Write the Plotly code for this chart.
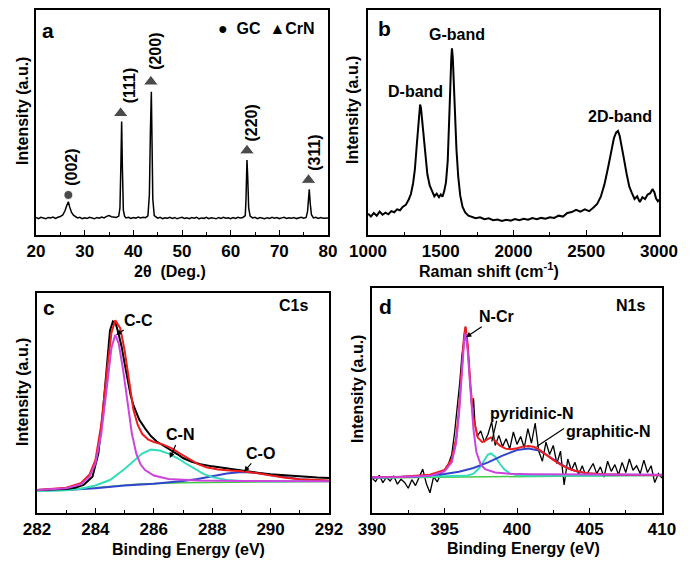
import plotly.graph_objects as go

# ---------------- Panel a: XRD ----------------
xrd_2theta = [20.0, 20.5, 21.0, 21.5, 22.0, 22.5, 23.0, 23.5, 24.0, 24.5, 25.0, 25.5, 26.0, 26.3, 26.65, 26.9, 27.3, 27.7,
              28.0, 28.5, 29.0, 29.5, 30.0, 30.5, 31.0, 31.5, 32.0, 32.5, 33.0, 33.5, 34.0, 34.5, 35.0, 35.5, 36.0, 36.5,
              37.0, 37.25, 37.45, 37.6, 37.75, 37.95, 38.2, 38.5, 39.0, 39.5, 40.0, 40.5, 41.0, 41.5, 42.0, 42.5, 43.0,
              43.3, 43.5, 43.7, 43.85, 44.0, 44.3, 44.7, 45.0, 45.5, 46.0, 46.5, 47.0, 47.5, 48.0, 48.5, 49.0, 49.5,
              50.0, 50.5, 51.0, 51.5, 52.0, 52.5, 53.0, 53.5, 54.0, 54.5, 55.0, 55.5, 56.0, 56.5, 57.0, 57.5, 58.0,
              58.5, 59.0, 59.5, 60.0, 60.5, 61.0, 61.5, 62.0, 62.5, 63.0, 63.15, 63.35, 63.5, 63.7, 64.0, 64.5, 65.0,
              65.5, 66.0, 66.5, 67.0, 67.5, 68.0, 68.5, 69.0, 69.5, 70.0, 70.5, 71.0, 71.5, 72.0, 72.5, 73.0, 73.5,
              74.0, 74.5, 75.0, 75.5, 75.8, 76.0, 76.15, 76.35, 76.6, 77.0, 77.5, 78.0, 78.5, 79.0, 79.5, 80.0]
xrd_int = [7.8, 7.3, 7.9, 7.5, 7.2, 7.8, 7.6, 8.0, 7.4, 7.9, 8.2, 8.9, 11.0, 13.0, 14.8, 12.6, 10.0, 8.8,
           8.2, 7.6, 7.9, 7.3, 7.7, 7.4, 7.9, 7.5, 7.2, 7.8, 7.5, 8.0, 7.6, 8.3, 8.6, 8.1, 8.0, 7.8,
           8.4, 12.0, 32.0, 50.4, 30.0, 11.0, 8.4, 7.6, 7.9, 7.4, 7.8, 7.5, 8.0, 7.6, 7.9, 7.7, 8.5,
           18.0, 45.0, 63.7, 40.0, 16.0, 8.6, 7.8, 7.5, 7.9, 7.3, 7.7, 7.5, 7.9, 7.4, 7.8, 7.2, 7.6,
           7.9, 7.4, 7.7, 7.3, 7.8, 7.5, 7.9, 7.2, 7.6, 7.4, 7.9, 7.3, 7.7, 7.5, 7.2, 7.8, 7.4,
           7.9, 7.5, 7.7, 7.3, 7.8, 7.4, 7.9, 7.6, 7.8, 8.6, 16.0, 33.3, 26.0, 12.0, 8.4, 7.6, 7.9,
           7.3, 7.8, 7.5, 7.2, 7.7, 7.4, 7.9, 7.5, 7.8, 7.3, 7.6, 7.9, 7.4, 7.7, 7.5, 7.8, 7.3,
           7.6, 7.9, 7.5, 7.8, 10.5, 17.0, 20.3, 14.0, 9.0, 7.6, 7.9, 7.4, 7.8, 7.5, 7.7, 7.6]

xrd_labels = ["(002)", "(111)", "(200)", "(220)", "(311)"]
xrd_label_x = [27.3, 39.2, 44.5, 64.2, 77.2]
xrd_label_y = [30.1, 66.7, 81.5, 49.6, 36.7]
xrd_marker_x = [26.65, 37.4, 43.6, 63.35, 76.0]
xrd_marker_y = [17.8, 54.1, 68.1, 37.5, 24.4]
xrd_marker_sym = ["circle", "triangle-up", "triangle-up", "triangle-up", "triangle-up"]

# ---------------- Panel b: Raman ----------------
raman_shift = [1000, 1020, 1040, 1060, 1080, 1100, 1120, 1140, 1160, 1180, 1200, 1220, 1240, 1260, 1280, 1295, 1310,
               1322, 1334, 1344, 1352, 1358, 1364, 1372, 1382, 1394, 1408, 1424, 1440, 1456, 1472, 1488, 1500, 1512,
               1524, 1536, 1548, 1558, 1566, 1572, 1577, 1583, 1590, 1598, 1608, 1620, 1634, 1650, 1668, 1690, 1715,
               1740, 1770, 1800, 1830, 1860, 1890, 1920, 1950, 1980, 2010, 2040, 2070, 2100, 2130, 2160, 2190, 2220,
               2250, 2280, 2310, 2340, 2370, 2400, 2430, 2460, 2490, 2520, 2550, 2575, 2600, 2625, 2650, 2670, 2690,
               2705, 2718, 2730, 2745, 2760, 2778, 2796, 2814, 2832, 2850, 2868, 2886, 2904, 2922, 2940, 2955, 2968,
               2980, 2992, 3000]
raman_int = [9.5, 8.2, 9.8, 8.6, 10.4, 9.0, 9.9, 9.2, 10.6, 10.1, 11.4, 11.0, 12.6, 13.4, 15.8, 18.2, 23.0,
             29.0, 39.0, 49.0, 56.0, 58.0, 56.5, 51.0, 43.0, 34.0, 27.0, 22.0, 19.6, 17.2, 18.4, 16.8, 18.0, 17.0,
             19.5, 23.5, 33.0, 48.0, 66.0, 78.0, 83.0, 78.5, 66.0, 52.0, 38.0, 26.0, 17.5, 12.5, 10.0, 8.6, 8.2,
             7.5, 7.9, 7.0, 7.4, 6.6, 6.9, 6.2, 6.8, 6.4, 7.1, 6.6, 7.2, 6.8, 7.5, 7.0, 7.6, 7.2,
             7.9, 7.6, 8.6, 8.2, 9.8, 10.2, 11.2, 10.4, 11.4, 10.6, 12.2, 13.8, 17.0, 22.5, 30.0, 37.0, 43.0,
             45.5, 46.2, 44.0, 39.5, 33.5, 27.0, 21.5, 18.6, 16.0, 17.2, 14.6, 16.8, 16.0, 18.0, 18.6, 20.4, 19.0,
             16.2, 15.0, 15.8]
raman_labels = ["D-band", "G-band", "2D-band"]
raman_label_x = [1323, 1610, 2732]
raman_label_y = [63.6, 88.9, 52.6]

# ---------------- Panel c: C1s ----------------
c1s_be = [282.0, 282.5, 283.0, 283.3, 283.6, 283.9, 284.1, 284.25, 284.4, 284.5, 284.6, 284.7, 284.8, 284.9, 285.0,
          285.1, 285.2, 285.3, 285.4, 285.5, 285.7, 285.9, 286.1, 286.3, 286.5, 286.8, 287.0, 287.3, 287.6, 288.0,
          288.3, 288.6, 289.0, 289.3, 289.6, 290.0, 290.3, 290.6, 291.0, 291.3, 291.6, 292.0]
c1s_raw = [10.4, 10.6, 10.9, 11.5, 12.8, 16.5, 27.0, 45.0, 70.0, 83.0, 87.1, 86.0, 81.0, 75.5, 68.0,
           61.0, 54.0, 49.0, 45.5, 42.5, 38.5, 35.0, 32.5, 31.0, 29.2, 26.8, 25.0, 23.3, 22.2, 21.2,
           20.6, 20.2, 19.2, 18.9, 18.2, 17.6, 17.3, 16.8, 16.6, 16.3, 16.1, 15.9]
c1s_fit_be = [282.0, 283.0, 283.5, 283.8, 284.0, 284.2, 284.4, 284.55, 284.68, 284.85, 285.0, 285.15, 285.3, 285.45,
              285.6, 285.8, 286.0, 286.3, 286.6, 286.9, 287.2, 287.5, 287.8, 288.2, 288.6, 289.0, 289.5, 290.0,
              290.5, 291.0, 292.0]
c1s_fit = [10.4, 11.5, 13.5, 17.5, 24.0, 40.0, 65.0, 82.0, 87.6, 84.0, 74.0, 60.0, 47.0, 40.0,
           36.0, 33.5, 32.3, 31.2, 29.5, 27.0, 24.5, 22.3, 20.8, 19.8, 19.3, 19.0, 18.2, 17.0,
           16.0, 15.3, 14.8]
cc_be = [282.0, 283.0, 283.5, 283.8, 284.0, 284.2, 284.4, 284.55, 284.68, 284.8, 284.95, 285.1, 285.25, 285.4,
         285.55, 285.7, 286.0, 286.5, 287.5, 289.0, 292.0]
cc_int = [10.5, 11.3, 13.0, 16.5, 22.5, 36.0, 58.0, 75.0, 81.0, 77.0, 65.0, 50.0, 36.0, 27.0,
          22.0, 19.5, 17.0, 15.5, 14.8, 14.6, 14.4]
cn_be = [282.0, 283.0, 283.5, 284.0, 284.5, 285.0, 285.3, 285.6, 285.9, 286.2, 286.5, 286.8, 287.1, 287.4,
         287.7, 288.0, 288.5, 289.0, 290.0, 292.0]
cn_int = [10.0, 10.3, 11.0, 12.5, 15.0, 20.0, 23.5, 27.0, 28.8, 28.4, 27.0, 25.0, 22.5, 20.0,
          17.8, 16.3, 15.0, 14.6, 14.4, 14.4]
co_be = [282.0, 283.0, 284.0, 284.5, 285.0, 286.0, 287.0, 287.5, 288.0, 288.5, 289.0, 289.5, 290.0, 290.5,
         291.0, 292.0]
co_int = [10.2, 10.5, 11.2, 11.8, 12.5, 13.3, 14.5, 15.5, 16.8, 18.0, 18.6, 18.3, 17.3, 16.2,
          15.3, 14.6]
c1s_bg_be = [282.0, 284.0, 285.5, 287.0, 292.0]
c1s_bg = [10.2, 11.5, 13.2, 13.8, 14.3]

# ---------------- Panel d: N1s ----------------
n1s_be = [390.0, 390.25, 390.5, 390.75, 391.0, 391.25, 391.5, 391.75, 392.0, 392.25, 392.5, 392.75, 393.0, 393.25,
          393.5, 393.75, 394.0, 394.25, 394.5, 394.75, 395.0, 395.25, 395.5, 395.7, 395.9, 396.05, 396.2, 396.35,
          396.45, 396.6, 396.75, 396.9, 397.0, 397.1, 397.25, 397.5, 397.75, 398.0, 398.25, 398.5, 398.75, 399.0,
          399.25, 399.5, 399.75, 400.0, 400.25, 400.5, 400.75, 401.0, 401.25, 401.5, 401.75, 402.0, 402.25, 402.5,
          402.75, 403.0, 403.25, 403.5, 403.75, 404.0, 404.25, 404.5, 404.75, 405.0, 405.25, 405.5, 405.75, 406.0,
          406.25, 406.5, 406.75, 407.0, 407.25, 407.5, 407.75, 408.0, 408.25, 408.5, 408.75, 409.0, 409.25, 409.5,
          409.75, 410.0]
n1s_raw = [15.5, 14.0, 16.8, 13.5, 15.9, 14.2, 16.5, 12.8, 15.0, 13.6, 11.0, 14.8, 12.2, 15.6,
           19.5, 13.0, 9.0, 16.2, 13.8, 17.5, 19.0, 21.5, 26.0, 36.0, 48.0, 58.0, 70.0, 79.0,
           82.8, 74.0, 60.0, 45.0, 51.0, 40.0, 34.0, 36.5, 31.5, 35.0, 40.5, 30.0, 34.5, 29.5,
           33.0, 28.5, 36.0, 30.5, 34.0, 29.0, 37.5, 31.0, 40.0, 27.5, 23.0, 31.5, 26.0, 30.0,
           22.0, 27.5, 12.5, 24.0, 19.0, 22.5, 17.0, 21.0, 16.5, 19.5, 22.0, 17.5, 20.5, 16.0,
           23.0, 18.5, 21.5, 17.0, 22.5, 18.0, 24.0, 19.0, 21.0, 17.5, 23.5, 18.0, 21.0, 13.5,
           17.5, 15.5]
n1s_fit_be = [390.0, 392.0, 394.0, 395.0, 395.5, 395.8, 396.0, 396.2, 396.35, 396.45, 396.6, 396.8, 397.0, 397.3,
              397.6, 397.9, 398.2, 398.5, 398.8, 399.2, 399.6, 400.0, 400.4, 400.8, 401.2, 401.6, 402.0, 402.5,
              403.0, 403.5, 404.0, 404.5, 405.0, 406.0, 407.0, 408.0, 410.0]
n1s_fit = [15.9, 16.1, 17.0, 19.1, 24.0, 33.0, 46.0, 66.0, 79.0, 82.8, 75.0, 56.0, 42.0, 33.5,
           31.5, 32.5, 33.6, 32.0, 30.0, 28.6, 28.3, 28.8, 29.5, 29.8, 29.3, 27.8, 25.8, 23.6,
           21.5, 19.9, 18.8, 18.0, 17.5, 17.2, 17.0, 16.9, 16.8]
ncr_be = [390.0, 392.0, 394.0, 395.0, 395.5, 395.8, 396.0, 396.2, 396.35, 396.45, 396.6, 396.8, 397.0, 397.2,
          397.5, 397.8, 398.5, 399.5, 401.0, 410.0]
ncr_int = [15.9, 16.0, 16.5, 18.5, 22.5, 31.0, 44.0, 63.0, 76.0, 80.0, 72.0, 54.0, 37.0, 27.0,
           21.5, 19.5, 18.0, 17.4, 17.2, 17.0]
pyr_be = [390.0, 396.5, 397.0, 397.4, 397.7, 398.0, 398.2, 398.5, 398.8, 399.1, 399.5, 400.0, 401.0, 410.0]
pyr_int = [15.7, 16.5, 17.5, 20.0, 23.0, 26.0, 26.5, 25.0, 22.0, 19.5, 17.6, 16.8, 16.5, 16.8]
gra_be = [390.0, 393.0, 395.0, 396.0, 397.0, 398.0, 399.0, 400.0, 400.8, 401.5, 402.0, 402.5, 403.0, 403.5,
          404.0, 404.5, 405.0, 406.0, 408.0, 410.0]
gra_int = [15.8, 16.2, 17.3, 18.3, 20.0, 22.5, 25.5, 28.0, 28.7, 27.8, 26.0, 23.8, 21.8, 20.0,
           18.8, 18.0, 17.5, 17.1, 17.0, 16.9]
n1s_bg_be = [390.0, 398.0, 410.0]
n1s_bg = [15.6, 16.2, 16.8]

# ---------------- styles ----------------
FONT = "Liberation Sans, Arial, sans-serif"
RED = "#ee1c1c"
MAG = "#cc44dd"
CYAN = "#33ddbb"
BLUE = "#3344cc"
GREEN = "#44cc44"

W, H = 689, 561


def fx(px):
    return px / W


def fy(py):
    return 1 - py / H


fig = go.Figure()


def line(x, y, color, width, ax):
    fig.add_trace(go.Scatter(x=x, y=y, mode="lines", line=dict(color=color, width=width),
                             xaxis="x" + ax, yaxis="y" + ax, showlegend=False, hoverinfo="skip"))


# a
line(xrd_2theta, xrd_int, "black", 1.5, "")
fig.add_trace(go.Scatter(x=xrd_marker_x, y=xrd_marker_y, mode="markers",
                         marker=dict(symbol=xrd_marker_sym, size=[9, 13, 13, 13, 13], color="black"),
                         xaxis="x", yaxis="y", showlegend=False, hoverinfo="skip"))
# b
line(raman_shift, raman_int, "black", 2, "2")
# c
line(c1s_bg_be, c1s_bg, GREEN, 1.5, "3")
line(co_be, co_int, BLUE, 2, "3")
line(cn_be, cn_int, CYAN, 2, "3")
line(c1s_be, c1s_raw, "black", 2, "3")
line(c1s_fit_be, c1s_fit, RED, 2, "3")
line(cc_be, cc_int, MAG, 2, "3")
# d
line(n1s_be, n1s_raw, "black", 1.3, "4")
line(n1s_bg_be, n1s_bg, GREEN, 1.5, "4")
line(pyr_be, pyr_int, CYAN, 2, "4")
line(gra_be, gra_int, BLUE, 2, "4")
line(n1s_fit_be, n1s_fit, RED, 2, "4")
line(ncr_be, ncr_int, MAG, 2, "4")

tickfont = dict(family=FONT, size=17, color="black", weight="bold")


def xax(domain, yanchor, rng, dtick, minor):
    return dict(domain=domain, anchor=yanchor, range=rng, dtick=dtick, tick0=rng[0],
                showline=True, mirror=True, linecolor="black", linewidth=1.5,
                ticks="inside", ticklen=5, tickwidth=1.2, tickcolor="black",
                minor=dict(ticks="inside", ticklen=3, dtick=minor, tickcolor="black", tickwidth=1.2),
                showgrid=False, zeroline=False, tickfont=tickfont, fixedrange=True, automargin=False)


def yax(domain, xanchor):
    return dict(domain=domain, anchor=xanchor, range=[0, 100], showline=True, mirror=True,
                linecolor="black", linewidth=1.5, ticks="", showticklabels=False,
                showgrid=False, zeroline=False, fixedrange=True, automargin=False)


fig.update_layout(
    width=W, height=H, margin=dict(l=0, r=0, t=0, b=0, pad=0, autoexpand=False),
    paper_bgcolor="white", plot_bgcolor="white",
    xaxis=xax([fx(36), fx(328)], "y", [20, 80], 10, 5),
    yaxis=yax([fy(235), fy(10)], "x"),
    xaxis2=xax([fx(368), fx(659)], "y2", [1000, 3000], 500, 250),
    yaxis2=yax([fy(235), fy(10)], "x2"),
    xaxis3=xax([fx(37), fx(329)], "y3", [282, 292], 2, 1),
    yaxis3=yax([fy(513), fy(293)], "x3"),
    xaxis4=xax([fx(372), fx(662)], "y4", [390, 410], 5, 2.5),
    yaxis4=yax([fy(513), fy(288)], "x4"),
)

ann = []


def txt(text, x, y, xref, yref, size=16, xanchor="center", yanchor="middle", angle=0, arrow=None):
    a = dict(text=text, x=x, y=y, xref=xref, yref=yref, showarrow=False,
             xanchor=xanchor, yanchor=yanchor, textangle=angle,
             font=dict(family=FONT, size=size, color="black", weight="bold"))
    if arrow is not None:
        # label at (x, y) in data, arrow points to tip
        a.update(x=arrow[0], y=arrow[1], ax=x, ay=y, axref=xref, ayref=yref, showarrow=True,
                 arrowhead=2, arrowsize=0.9, arrowwidth=1.2, arrowcolor="black", standoff=0)
        a.pop("xanchor")
        a.pop("yanchor")
    ann.append(a)


# axis titles
for (t, px, py) in [("2θ  (Deg.)", 170, 271), ("Raman shift (cm<sup>-1</sup>)", 489, 270),
                    ("Binding Energy (eV)", 189, 549), ("Binding Energy (eV)", 523, 548)]:
    txt(t, fx(px), fy(py), "paper", "paper")
for (px, py) in [(22, 111), (353, 110), (22, 392), (357, 389)]:
    txt("Intensity (a.u.)", fx(px), fy(py), "paper", "paper", angle=-90)

# panel a
txt("a", 20.8, 90.7, "x", "y", size=21, xanchor="left")
txt("●  GC  ▲CrN", 77.7, 91.6, "x", "y", xanchor="right")
for t, x, y in zip(xrd_labels, xrd_label_x, xrd_label_y):
    txt(t, x, y, "x", "y", angle=-90)

# panel b
txt("b", 1055, 92, "x2", "y2", size=21, xanchor="left")
for t, x, y in zip(raman_labels, raman_label_x, raman_label_y):
    txt(t, x, y, "x2", "y2")

# panel c
txt("c", 282.15, 93.2, "x3", "y3", size=21, xanchor="left")
txt("C1s", 290.77, 94.5, "x3", "y3")
txt("C-C", 285.49, 87.7, "x3", "y3", arrow=(284.71, 80.9))
txt("C-N", 286.9, 35.5, "x3", "y3", arrow=(286.55, 25.0))
txt("C-O", 289.64, 27.1, "x3", "y3", arrow=(289.09, 18.8))

# panel d
txt("d", 390.35, 91.7, "x4", "y4", size=21, xanchor="left")
txt("N1s", 407.8, 92.4, "x4", "y4")
txt("N-Cr", 398.6, 87.2, "x4", "y4", arrow=(396.48, 78.1))
txt("pyridinic-N", 401.06, 44.3, "x4", "y4")
txt("graphitic-N", 406.3, 36.1, "x4", "y4")

fig.update_layout(annotations=ann)

# leader lines for the two N1s labels (tail -> tip, in data coordinates)
leader_x0 = [398.6, 403.24]
leader_y0 = [41.0, 37.6]
leader_x1 = [398.26, 401.36]
leader_y1 = [31.7, 29.5]
for x0, y0, x1, y1 in zip(leader_x0, leader_y0, leader_x1, leader_y1):
    fig.add_shape(type="line", xref="x4", yref="y4", x0=x0, y0=y0, x1=x1, y1=y1,
                  line=dict(color="black", width=1.2))

fig.write_html("out.html", config={"displayModeBar": False},
               post_script="document.body.style.margin='0';document.body.style.overflow='hidden';")
